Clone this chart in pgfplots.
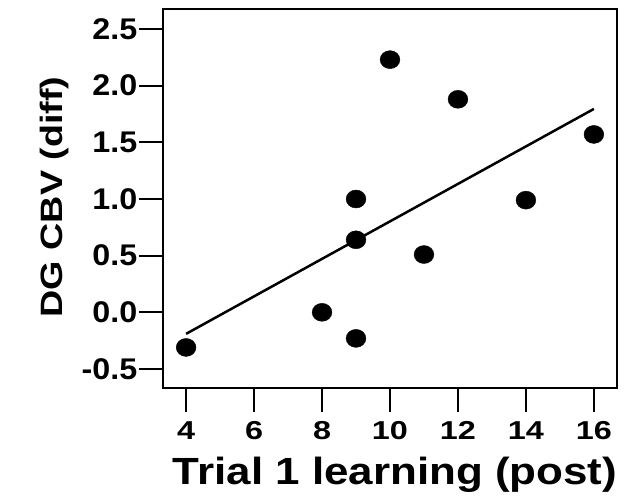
\documentclass[border=0pt]{standalone}
\usepackage{fontspec}
\setmainfont{Liberation Sans}
\newfontfamily\xlabfont{Liberation Sans}[FakeStretch=1.16]
\newfontfamily\ylabfont{Liberation Sans}[FakeStretch=1.22]
\newfontfamily\xtickfont{Liberation Sans}[FakeStretch=1.25]
\newfontfamily\ytickfont{Liberation Sans}[FakeStretch=1.08]
\usepackage{pgfplots}
\pgfplotsset{compat=1.18}
\begin{document}
\begin{tikzpicture}
\begin{axis}[
  scale only axis, width=454bp, height=379bp,
  xmin=3.32, xmax=16.68, ymin=-0.668, ymax=2.677,
  xtick={4,6,8,10,12,14,16},
  xticklabels={4,6,8,10,12,14,16},
  ytick={-0.5,0,0.5,1,1.5,2,2.5},
  yticklabels={-0.5,0.0,0.5,1.0,1.5,2.0,2.5},
  xtick pos=lower, ytick pos=left,
  tick align=outside, major tick length=24bp,
  axis line style={line width=2bp, black},
  every tick/.style={line width=2bp, black},
  yticklabel style={font=\ytickfont\fontsize{30}{30}\selectfont\bfseries, inner sep=1.5bp},
  xticklabel style={font=\xtickfont\fontsize{26}{26}\selectfont\bfseries, inner sep=9bp},
  xlabel={Trial 1 learning (post)},
  xlabel style={font=\xlabfont\fontsize{38}{38}\selectfont\bfseries, at={(axis description cs:0.511,-0.2533)}, anchor=base},
  ylabel={DG CBV (diff)},
  ylabel style={font=\ylabfont\fontsize{31}{31}\selectfont\bfseries, at={(axis description cs:-0.222,0.504)}, anchor=base},
  clip=false,
]
\addplot[line width=2.5bp, no marks, black] coordinates {(4,-0.19) (16,1.795)};
\addplot[only marks, mark=*, mark size=9bp, mark options={xscale=1.1, fill=black, draw=black}] coordinates {
  (4,-0.31) (8,0.0) (9,-0.23) (9,0.64) (9,1.0) (10,2.23) (11,0.51) (12,1.88) (14,0.99) (16,1.57)};
\end{axis}
\path ([shift={(-163bp,-107bp)}]current axis.south west) rectangle ([shift={(468bp,388bp)}]current axis.south west);
\end{tikzpicture}
\end{document}
